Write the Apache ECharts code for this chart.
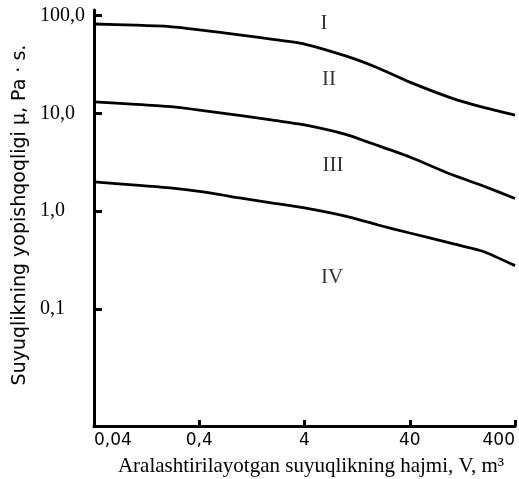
<!DOCTYPE html>
<html>
<head>
<meta charset="utf-8">
<script src="https://cdn.jsdelivr.net/npm/echarts@6/dist/echarts.min.js"></script>
<style>
  html, body { margin: 0; padding: 0; background: #fff; }
  #chart { width: 519px; height: 479px; }
</style>
</head>
<body>
<div id="chart"></div>
<script>
// volume V, m3 (log axis)
var volumes = [0.04, 0.1, 0.2, 0.4, 1, 2, 4, 10, 20, 40, 100, 200, 400];
// viscosity mu, Pa*s
var curveTop = [81.7, 79.4, 77.4, 71.3, 62.9, 56.9, 51.0, 38.3, 29.0, 20.8, 14.3, 11.5, 9.6];
var curveMid = [13.05, 12.36, 11.76, 10.8, 9.47, 8.5, 7.6, 6.06, 4.67, 3.58, 2.37, 1.81, 1.35];
var curveLow = [1.99, 1.85, 1.74, 1.59, 1.36, 1.21, 1.08, 0.885, 0.723, 0.599, 0.469, 0.388, 0.278];

var xTicks = [0.04, 0.4, 4, 40, 400];
var yTicks = [0.1, 1, 10, 100];

// zone names between the curves
var zoneNames = ['I', 'II', 'III', 'IV'];
var zoneX = [6.12, 6.84, 7.46, 7.30];
var zoneY = [82.7, 22.4, 2.9, 0.208];

var chartDom = document.getElementById('chart');
var myChart = echarts.init(chartDom);

function pairs(ys) {
  return volumes.map(function (v, i) { return [v, ys[i]]; });
}

function curve(ys) {
  return {
    type: 'line',
    data: pairs(ys),
    smooth: 0.2,
    symbol: 'none',
    lineStyle: { color: '#000', width: 2.8 },
    z: 3
  };
}

var option = {
  animation: false,
  backgroundColor: '#fff',
  grid: {
    left: 94,
    right: 4,
    top: 10,
    bottom: 53,
    containLabel: false,
    outerBoundsMode: 'none'
  },
  xAxis: {
    type: 'log',
    logBase: 10,
    min: 0.04,
    max: 400,
    name: 'Aralashtirilayotgan suyuqlikning hajmi, V, m³',
    nameLocation: 'middle',
    nameGap: 30,
    nameTextStyle: {
      fontFamily: 'Liberation Serif',
      fontSize: 21,
      color: '#000',
      padding: [0, 0, 0, 13]
    },
    axisLine: { lineStyle: { color: '#000', width: 3 } },
    axisTick: {
      inside: true,
      length: 6,
      customValues: xTicks,
      lineStyle: { color: '#000', width: 3 }
    },
    axisLabel: {
      customValues: xTicks,
      margin: 6,
      fontFamily: 'DejaVu Sans',
      fontSize: 17,
      color: '#000',
      alignMinLabel: 'left',
      alignMaxLabel: 'right',
      formatter: function (v) {
        return String(Number(v.toPrecision(2))).replace('.', ',');
      }
    },
    splitLine: { show: false },
    minorTick: { show: false }
  },
  yAxis: {
    type: 'log',
    logBase: 10,
    min: 0.0064,
    max: 113.5,
    name: 'Suyuqlikning yopishqoqligi μ, Pa · s.',
    nameLocation: 'middle',
    nameGap: 54,
    nameTextStyle: {
      fontFamily: 'DejaVu Sans',
      fontSize: 19,
      color: '#000',
      padding: [0, 0, 0, 6]
    },
    axisLine: { lineStyle: { color: '#000', width: 3 } },
    axisTick: {
      inside: true,
      length: 8,
      customValues: yTicks,
      lineStyle: { color: '#000', width: 3 }
    },
    axisLabel: {
      customValues: yTicks,
      margin: 54,
      align: 'left',
      fontFamily: 'Liberation Serif',
      fontSize: 20,
      color: '#000',
      formatter: function (v) {
        return Number(v.toPrecision(2)).toFixed(1).replace('.', ',');
      }
    },
    splitLine: { show: false },
    minorTick: { show: false }
  },
  series: [
    curve(curveTop),
    curve(curveMid),
    curve(curveLow),
    {
      type: 'scatter',
      symbol: 'circle',
      symbolSize: 1,
      itemStyle: { color: 'rgba(0,0,0,0)' },
      data: zoneNames.map(function (n, i) {
        return { name: n, value: [zoneX[i], zoneY[i]] };
      }),
      label: {
        show: true,
        position: 'inside',
        formatter: '{b}',
        fontFamily: 'Liberation Serif',
        fontSize: 21,
        color: '#000'
      },
      z: 4
    }
  ]
};

option && myChart.setOption(option);
</script>
</body>
</html>
